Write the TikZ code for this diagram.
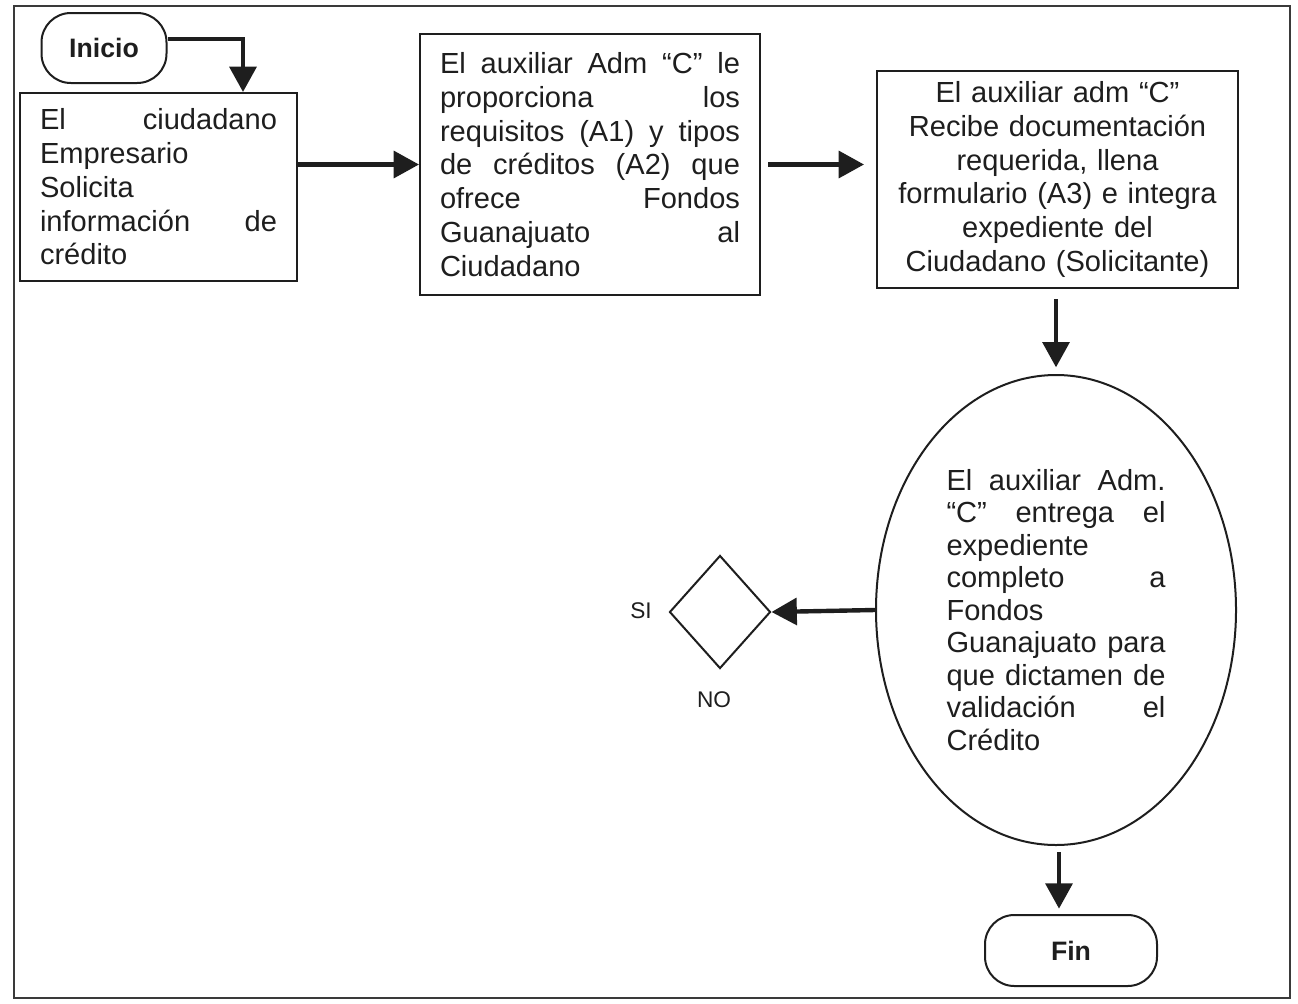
\documentclass[tikz,border=0pt]{standalone}
\usepackage{fontspec}
\setmainfont{Liberation Sans}
\usetikzlibrary{shapes.geometric,arrows.meta}
\definecolor{ink}{HTML}{1E1E1E}
\definecolor{framegray}{HTML}{3A3A3A}
% \gap spreads the words of a justified line across the full width
\newcommand\gap{\hfill\ }
\begin{document}
\begin{tikzpicture}[x=0.75pt,y=-0.75pt,
  every node/.style={inner sep=0pt,text=ink},
  txt/.style={font=\fontsize{21.8}{25.3}\selectfont},
  procbox/.style={draw=ink,line width=1.5pt,rectangle,txt},
  term/.style={draw=ink,line width=1.5pt,rectangle,rounded corners=22pt,
               font=\bfseries\fontsize{20}{24}\selectfont},
  flow/.style={draw=ink,line width=3.3pt,-{Triangle[length=19pt,width=20pt]}},
  lbl/.style={font=\fontsize{17}{20}\selectfont},
]
\useasboundingbox (0,0) rectangle (1298,1003);
\draw[framegray,line width=1.2pt] (14,6) rectangle (1290,998);

% terminals
\node[term,minimum width=93.75pt,minimum height=52.5pt] (ini) at (104,48) {Inicio};
\node[term,minimum width=129pt,minimum height=53.25pt] (fin) at (1071,950.5) {Fin};

% process boxes
\node[procbox,minimum width=207.75pt,minimum height=141pt,
      text width=177.75pt,align=left] (b1) at (158.5,187)
  {El\gap ciudadano\\Empresario\\Solicita\\información\gap de\\crédito};
\node[procbox,minimum width=255pt,minimum height=195.75pt,
      text width=225pt,align=left] (b2) at (590,164.5)
  {El\gap auxiliar\gap Adm\gap “C”\gap le\\proporciona\gap los\\
   requisitos\gap (A1)\gap y\gap tipos\\de\gap créditos\gap (A2)\gap que\\
   ofrece\gap Fondos\\Guanajuato\gap al\\Ciudadano};
\node[procbox,minimum width=270.75pt,minimum height=162.75pt,
      text width=255pt,align=center] (b3) at (1057.5,179.5)
  {El auxiliar adm “C”\\Recibe documentación\\requerida, llena\\
   formulario (A3) e integra\\expediente del\\Ciudadano (Solicitante)};

% hand-over step
\node[draw=ink,line width=1.5pt,ellipse,minimum width=270pt,minimum height=352.5pt,
      text width=164.25pt,align=left,font=\fontsize{21.8}{24.4}\selectfont] (el) at (1056,610)
  {El\gap auxiliar\gap Adm.\\“C”\gap entrega\gap el\\expediente\\completo\gap a\\Fondos\\
   Guanajuato\gap para\\que\gap dictamen\gap de\\validación\gap el\\Crédito};

% decision
\node[draw=ink,line width=1.5pt,diamond,minimum width=75.75pt,minimum height=84.75pt] (dm) at (720,612) {};
\node[lbl] (si) at (641,611) {SI};
\node[lbl] (no) at (714,700) {NO};

% connectors
\draw[flow] ([shift={(0,-9)}]ini.east) -| ([shift={(84.5,0)}]b1.north);
\draw[flow] (b1.east |- b2.west) -- (b2.west);
\draw[flow,shorten <=5.25pt,shorten >=9pt] (b2.east) -- (b3.west |- b2.east);
\draw[flow,shorten <=7.5pt,shorten >=5pt] (b3.south -| el.north) -- (el.north);
\draw[flow] (el.west) -- (dm.east);
\draw[flow,shorten <=4.5pt,shorten >=4pt] ([shift={(3,0)}]el.south) -- ([shift={(-12,0)}]fin.north);
\end{tikzpicture}
\end{document}
